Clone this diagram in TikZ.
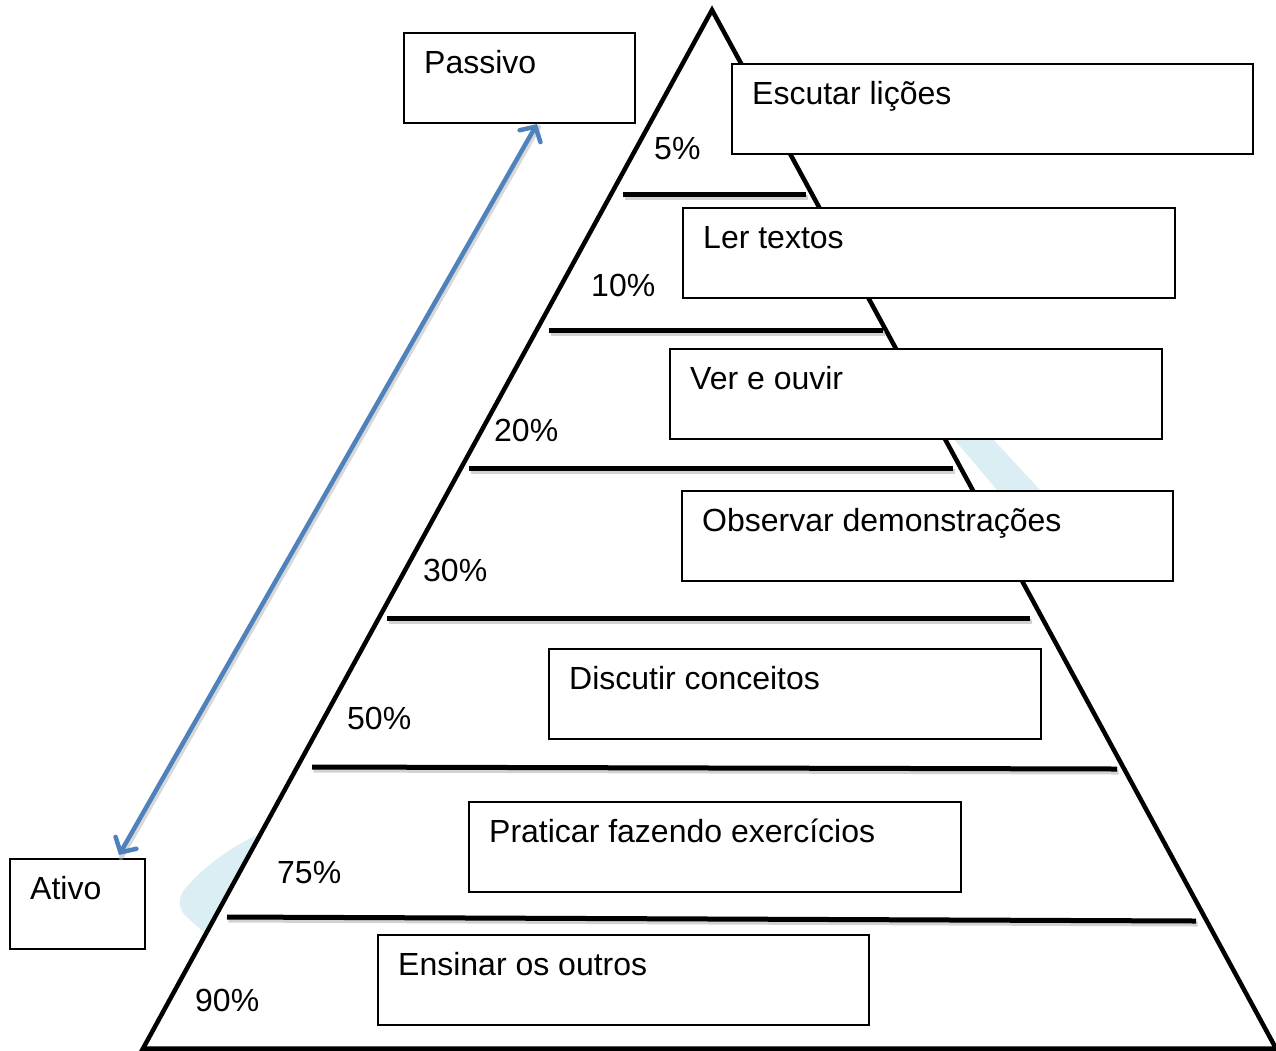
\documentclass[tikz,border=0pt]{standalone}
\usepackage{fontspec}
\setmainfont{Liberation Sans}
\usetikzlibrary{arrows.meta}
\definecolor{arrblue}{HTML}{4F81BD}
\definecolor{paleblue}{HTML}{DAEEF3}
\begin{document}
\begin{tikzpicture}[x=1pt,y=-1pt,
  box/.style={draw=black, line width=2pt, fill=white, inner sep=0pt, anchor=north west, minimum height=90pt},
  lbl/.style={anchor=base west, inner sep=0pt, font=\fontsize{32}{36}\selectfont},
  tier/.style={line width=5pt, black},
  tiershadow/.style={line width=5pt, black!35, opacity=0.5},
  pyr/.style={line width=4.5pt, line join=miter, fill=white},
  dbl/.style={arrblue, line width=4.5pt, line cap=round,
    {Straight Barb[length=11pt,width=24pt,line cap=round]}-{Straight Barb[length=11pt,width=24pt,line cap=round]}}
]
\useasboundingbox (0,0) rectangle (1276,1050);
% pale background shapes
\fill[paleblue] (953,438) -- (992,438) -- (1040,490) -- (997,490) -- cycle;
\fill[paleblue] (262,833) .. controls (232,845) and (200,870) .. (184,890)
  .. controls (176,900) and (180,912) .. (188,918)
  .. controls (194,924) and (200,929) .. (206,934) -- cycle;
% pyramid
\draw[pyr] (712,10) -- (1276,1048.5) -- (143,1048.5) -- cycle;
% tier lines (shadows first)
\foreach \y/\a/\b/\c in {194/623/806/194, 330/549/883/330, 468/469/953/468, 618/387/1030/618, 767/312/1117/769, 917/227/1196/921}{
  \draw[tiershadow] (\a+1.5,\y+3) -- (\b+1.5,\c+3);
}
\draw[tier] (623,194) -- (806,194);
\draw[tier] (549,330) -- (883,330);
\draw[tier] (469,468) -- (953,468);
\draw[tier] (387,618) -- (1030,618);
\draw[tier] (312,767) -- (1117,769);
\draw[tier] (227,917) -- (1196,921);
% boxes
\node[box, minimum width=231pt] (passivo) at (403,32) {};
\node[box, minimum width=135pt] (ativo) at (9,858) {};
\node[box, minimum width=521pt] (b1) at (731,63) {};
\node[box, minimum width=492pt] (b2) at (682,207) {};
\node[box, minimum width=492pt] (b3) at (669,348) {};
\node[box, minimum width=491pt] (b4) at (681,490) {};
\node[box, minimum width=492pt] (b5) at (548,648) {};
\node[box, minimum width=492pt] (b6) at (468,801) {};
\node[box, minimum width=491pt] (b7) at (377,934) {};
% box labels
\node[lbl] (tpassivo) at ([xshift=21pt,yshift=-41pt]passivo.north west) {Passivo};
\node[lbl] (tativo) at ([xshift=21pt,yshift=-41pt]ativo.north west) {Ativo};
\node[lbl] (t1) at ([xshift=21pt,yshift=-41pt]b1.north west) {Escutar lições};
\node[lbl] (t2) at ([xshift=21pt,yshift=-41pt]b2.north west) {Ler textos};
\node[lbl] (t3) at ([xshift=21pt,yshift=-41pt]b3.north west) {Ver e ouvir};
\node[lbl] (t4) at ([xshift=21pt,yshift=-41pt]b4.north west) {Observar demonstrações};
\node[lbl] (t5) at ([xshift=21pt,yshift=-41pt]b5.north west) {Discutir conceitos};
\node[lbl] (t6) at ([xshift=21pt,yshift=-41pt]b6.north west) {Praticar fazendo exercícios};
\node[lbl] (t7) at ([xshift=21pt,yshift=-41pt]b7.north west) {Ensinar os outros};
% percentages
\node[lbl] (p1) at (654,159) {5\%};
\node[lbl] (p2) at (591,296) {10\%};
\node[lbl] (p3) at (494,441) {20\%};
\node[lbl] (p4) at (423,581) {30\%};
\node[lbl] (p5) at (347,729) {50\%};
\node[lbl] (p6) at (277,883) {75\%};
\node[lbl] (p7) at (195,1011) {90\%};
% double arrow
\coordinate (aTop) at (537,124);
\coordinate (aBot) at (119,855);
\draw[black!30, opacity=0.5, line width=4.5pt, line cap=round] ([shift={(2,3)}]aBot) -- ([shift={(2,3)}]aTop);
\draw[dbl] (aBot) -- (aTop);
\end{tikzpicture}
\end{document}
